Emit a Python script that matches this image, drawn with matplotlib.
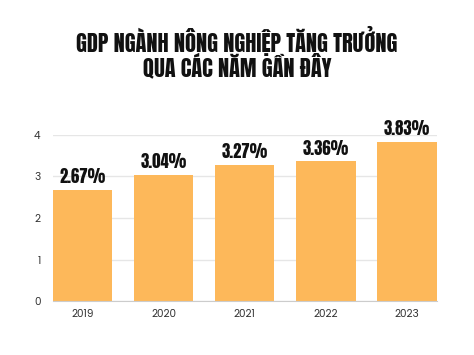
import matplotlib.pyplot as plt

years = ["2019", "2020", "2021", "2022", "2023"]
growth = [2.67, 3.04, 3.27, 3.36, 3.83]
labels = ["2.67%", "3.04%", "3.27%", "3.36%", "3.83%"]
title_lines = ["GDP NGÀNH NÔNG NGHIỆP TĂNG TRƯỞNG", "QUA CÁC NĂM GẦN ĐÂY"]

title_font = ["Anton", "DejaVu Sans"]
tick_font = ["Poppins", "DejaVu Sans"]

fig = plt.figure(figsize=(4.74, 3.55), dpi=100)
ax = fig.add_axes([0.112, 0.152, 0.81, 0.468])

x = range(len(years))
ax.bar(x, growth, width=0.73, color="#FDB85A", zorder=2)
for i, v in enumerate(growth):
    ax.annotate(labels[i], (i, v), xytext=(0, 5), textcoords="offset points",
                ha="center", va="baseline", fontsize=12, family=title_font,
                color="#111111", annotation_clip=False)

ax.set_xlim(-0.365, 4.37)
ax.set_ylim(0, 4)
ax.set_yticks([0, 1, 2, 3, 4])
ax.set_xticks(list(x))
ax.set_xticklabels(years)
ax.yaxis.grid(True, color="#e6e6e6", linewidth=1, zorder=0)
for s in ["top", "right", "left"]:
    ax.spines[s].set_visible(False)
ax.spines["bottom"].set_color("#cccccc")
ax.tick_params(axis="both", length=0, labelsize=7.5, colors="#333333")
ax.tick_params(axis="y", pad=9)
ax.tick_params(axis="x", pad=6)
for lab in ax.get_xticklabels() + ax.get_yticklabels():
    lab.set_family(tick_font)

fig.text(0.5, 0.8535, title_lines[0], ha="center", va="baseline", fontsize=16,
         family=title_font, color="#111111")
fig.text(0.5, 0.783, title_lines[1], ha="center", va="baseline", fontsize=16,
         family=title_font, color="#111111")

fig.savefig("out.png", dpi=100)
